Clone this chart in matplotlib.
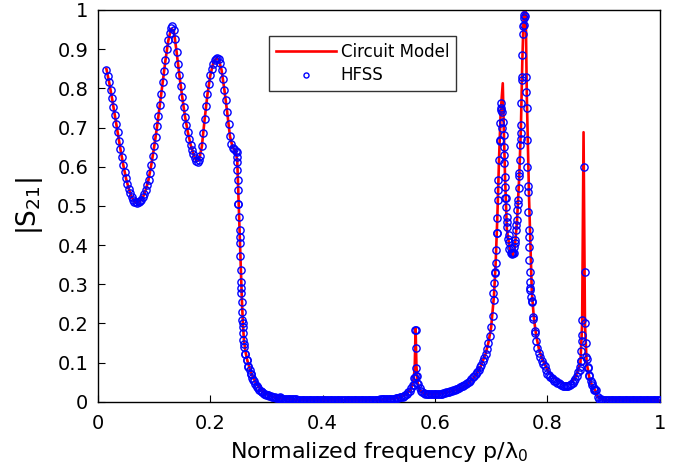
import matplotlib
matplotlib.use("Agg")
import matplotlib.pyplot as plt
import numpy as np

# HFSS: uniform sweep 0.015 .. 1.000, step 0.0025
hfss_x = np.round(np.arange(0.015, 1.00001, 0.0025), 4)
hfss_y = [
    0.848, 0.832, 0.815, 0.795, 0.775, 0.753, 0.732, 0.710,  # 0.015
    0.688, 0.666, 0.645, 0.625, 0.605, 0.587, 0.570, 0.556,  # 0.035
    0.543, 0.532, 0.523, 0.516, 0.511, 0.509, 0.508, 0.509,  # 0.055
    0.512, 0.516, 0.522, 0.530, 0.540, 0.552, 0.566, 0.584,  # 0.075
    0.605, 0.628, 0.652, 0.677, 0.703, 0.730, 0.758, 0.786,  # 0.095
    0.815, 0.845, 0.873, 0.900, 0.923, 0.942, 0.955, 0.958,  # 0.115
    0.950, 0.926, 0.893, 0.863, 0.833, 0.805, 0.778, 0.752,  # 0.135
    0.728, 0.707, 0.688, 0.671, 0.656, 0.643, 0.632, 0.622,  # 0.155
    0.615, 0.612, 0.616, 0.628, 0.652, 0.686, 0.722, 0.755,  # 0.175
    0.785, 0.811, 0.833, 0.850, 0.863, 0.872, 0.876, 0.878,  # 0.195
    0.875, 0.865, 0.848, 0.825, 0.797, 0.769, 0.740, 0.708,  # 0.215
    0.678, 0.658, 0.648, 0.644, 0.641, 0.625, 0.506, 0.420,  # 0.235
    0.290, 0.200, 0.147, 0.123, 0.106, 0.091, 0.080, 0.071,  # 0.255
    0.061, 0.053, 0.046, 0.040, 0.035, 0.031, 0.027, 0.024,  # 0.275
    0.021, 0.019, 0.018, 0.016, 0.015, 0.014, 0.013, 0.012,  # 0.295
    0.011, 0.010, 0.010, 0.009, 0.009, 0.008, 0.008, 0.007,  # 0.315
    0.007, 0.007, 0.006, 0.006, 0.006, 0.006, 0.006, 0.006,  # 0.335
    0.005, 0.005, 0.005, 0.005, 0.005, 0.005, 0.005, 0.005,  # 0.355
    0.005, 0.005, 0.005, 0.005, 0.005, 0.005, 0.005, 0.005,  # 0.375
    0.005, 0.005, 0.005, 0.005, 0.005, 0.005, 0.005, 0.005,  # 0.395
    0.005, 0.005, 0.005, 0.005, 0.005, 0.005, 0.005, 0.005,  # 0.415
    0.005, 0.005, 0.005, 0.005, 0.005, 0.005, 0.005, 0.005,  # 0.435
    0.005, 0.005, 0.005, 0.005, 0.005, 0.005, 0.005, 0.005,  # 0.455
    0.005, 0.005, 0.005, 0.005, 0.005, 0.005, 0.005, 0.005,  # 0.475
    0.005, 0.005, 0.005, 0.006, 0.006, 0.006, 0.006, 0.006,  # 0.495
    0.007, 0.007, 0.007, 0.008, 0.008, 0.008, 0.009, 0.009,  # 0.515
    0.010, 0.011, 0.012, 0.013, 0.015, 0.017, 0.020, 0.024,  # 0.535
    0.028, 0.034, 0.042, 0.060, 0.183, 0.065, 0.045, 0.034,  # 0.555
    0.028, 0.025, 0.022, 0.021, 0.020, 0.020, 0.019, 0.019,  # 0.575
    0.019, 0.019, 0.019, 0.019, 0.020, 0.020, 0.021, 0.021,  # 0.595
    0.022, 0.023, 0.024, 0.025, 0.026, 0.027, 0.028, 0.029,  # 0.615
    0.030, 0.032, 0.033, 0.035, 0.037, 0.039, 0.041, 0.043,  # 0.635
    0.046, 0.048, 0.051, 0.054, 0.058, 0.062, 0.066, 0.071,  # 0.655
    0.076, 0.082, 0.088, 0.095, 0.103, 0.112, 0.122, 0.135,  # 0.675
    0.150, 0.168, 0.190, 0.220, 0.260, 0.330, 0.430, 0.540,  # 0.695
    0.665, 0.750, 0.700, 0.630, 0.520, 0.460, 0.415, 0.390,  # 0.715
    0.380, 0.377, 0.380, 0.404, 0.450, 0.505, 0.575, 0.670,  # 0.735
    0.830, 0.960, 0.985, 0.790, 0.550, 0.420, 0.290, 0.255,  # 0.755
    0.210, 0.180, 0.155, 0.138, 0.125, 0.114, 0.105, 0.097,  # 0.775
    0.090, 0.080, 0.072, 0.068, 0.064, 0.060, 0.057, 0.054,  # 0.795
    0.052, 0.049, 0.047, 0.045, 0.043, 0.041, 0.040, 0.040,  # 0.815
    0.040, 0.041, 0.042, 0.045, 0.048, 0.052, 0.058, 0.065,  # 0.835
    0.075, 0.088, 0.105, 0.170, 0.599, 0.200, 0.110, 0.085,  # 0.855
    0.065, 0.052, 0.042, 0.035, 0.030, 0.030, 0.012, 0.008,  # 0.875
    0.006, 0.005, 0.005, 0.005, 0.004, 0.004, 0.004, 0.004,  # 0.895
    0.004, 0.004, 0.004, 0.004, 0.004, 0.004, 0.004, 0.004,  # 0.915
    0.004, 0.004, 0.004, 0.004, 0.004, 0.004, 0.004, 0.004,  # 0.935
    0.004, 0.004, 0.004, 0.004, 0.004, 0.004, 0.004, 0.004,  # 0.955
    0.004, 0.004, 0.004, 0.004, 0.004, 0.004, 0.004, 0.004,  # 0.975
    0.004, 0.004, 0.004,                                     # 0.995
]

# HFSS: extra dense sweep points on the steep parts
hfss_extra_x = [
    0.247, 0.247, 0.248, 0.249, 0.249, 0.250, 0.251, 0.252, 0.252, 0.253,
    0.254, 0.255, 0.255, 0.256, 0.256, 0.257, 0.258, 0.258, 0.259, 0.2606,
    0.262, 0.265, 0.268, 0.272, 0.2766, 0.2826, 0.2915, 0.303, 0.324,
    0.5635, 0.5645, 0.5655, 0.5655, 0.5655, 0.567, 0.568,
    0.704, 0.705, 0.707, 0.708, 0.709, 0.710, 0.711, 0.712, 0.713, 0.714,
    0.715, 0.716, 0.717, 0.717, 0.719, 0.721, 0.722, 0.722, 0.723, 0.724,
    0.725, 0.726, 0.727, 0.728, 0.729, 0.731, 0.732, 0.735, 0.737,
    0.7397, 0.7415, 0.7427, 0.7444, 0.7457, 0.7467, 0.748, 0.7492, 0.7503,
    0.7516, 0.7521, 0.7528, 0.7534, 0.754, 0.7552, 0.7558, 0.7565, 0.7577,
    0.7584, 0.759, 0.7617, 0.7635, 0.7635, 0.7646, 0.7653, 0.7663, 0.767,
    0.768, 0.768, 0.7694, 0.7694, 0.770, 0.7706, 0.7724, 0.7753, 0.778,
    0.859, 0.860, 0.8605, 0.861, 0.8615, 0.867, 0.8686, 0.869, 0.872,
    0.874, 0.879, 0.883,
]
hfss_extra_y = [
    0.638, 0.613, 0.592, 0.566, 0.540, 0.506, 0.472, 0.438, 0.404, 0.371,
    0.336, 0.306, 0.277, 0.255, 0.230, 0.209, 0.191, 0.175, 0.158, 0.140,
    0.123, 0.106, 0.089, 0.072, 0.055, 0.038, 0.026, 0.017, 0.011,
    0.043, 0.060, 0.086, 0.136, 0.183, 0.065, 0.048,
    0.277, 0.302, 0.328, 0.353, 0.387, 0.430, 0.468, 0.515, 0.566, 0.617,
    0.668, 0.711, 0.745, 0.762, 0.740, 0.715, 0.681, 0.651, 0.609, 0.574,
    0.549, 0.519, 0.498, 0.472, 0.447, 0.426, 0.408, 0.392, 0.379,
    0.379, 0.396, 0.413, 0.438, 0.464, 0.489, 0.515, 0.545, 0.583,
    0.617, 0.655, 0.685, 0.706, 0.762, 0.821, 0.885, 0.940, 0.962,
    0.979, 0.987, 0.830, 0.749, 0.668, 0.600, 0.536, 0.485, 0.438,
    0.396, 0.362, 0.332, 0.306, 0.285, 0.268, 0.258, 0.217, 0.175,
    0.081, 0.105, 0.130, 0.156, 0.209, 0.331, 0.149, 0.115, 0.089,
    0.068, 0.047, 0.030,
]

# Circuit model
circuit_x = [
    0.015, 0.02, 0.025, 0.03, 0.035, 0.04, 0.045, 0.05, 0.055, 0.06,
    0.065, 0.07, 0.075, 0.08, 0.085, 0.09, 0.095, 0.10, 0.105, 0.11,
    0.115, 0.12, 0.125, 0.13, 0.135, 0.14, 0.145, 0.15, 0.155, 0.16,
    0.165, 0.17, 0.175, 0.18, 0.185, 0.19, 0.195, 0.20, 0.205, 0.21,
    0.215, 0.22, 0.225, 0.23, 0.235, 0.24, 0.245, 0.248, 0.25, 0.252,
    0.254, 0.256, 0.258, 0.26, 0.263, 0.266, 0.27, 0.275, 0.28, 0.29,
    0.30, 0.31, 0.32, 0.35, 0.40, 0.45, 0.50, 0.52, 0.535, 0.545,
    0.553, 0.558, 0.562, 0.564, 0.5655, 0.567, 0.569, 0.572, 0.577, 0.585,
    0.60, 0.62, 0.64, 0.65, 0.66, 0.67, 0.68, 0.69, 0.695, 0.70,
    0.705, 0.708, 0.711, 0.714, 0.717, 0.7207, 0.7225, 0.7247, 0.728, 0.73,
    0.734, 0.738, 0.742, 0.746, 0.75, 0.753, 0.7555, 0.758, 0.7605, 0.762,
    0.7635, 0.7676, 0.7724, 0.776, 0.78, 0.785, 0.79, 0.80, 0.81, 0.82,
    0.83, 0.84, 0.85, 0.855, 0.859, 0.862, 0.8645, 0.867, 0.87, 0.875,
    0.88, 0.885, 0.89, 0.90, 0.95, 1.0,
]
circuit_y = [
    0.850, 0.815, 0.775, 0.732, 0.688, 0.645, 0.605, 0.570, 0.543, 0.523,
    0.511, 0.508, 0.512, 0.522, 0.540, 0.567, 0.605, 0.650, 0.700, 0.755,
    0.812, 0.870, 0.920, 0.952, 0.948, 0.893, 0.833, 0.778, 0.728, 0.688,
    0.656, 0.632, 0.615, 0.616, 0.652, 0.722, 0.785, 0.833, 0.863, 0.876,
    0.874, 0.847, 0.797, 0.740, 0.678, 0.648, 0.641, 0.615, 0.530, 0.450,
    0.360, 0.270, 0.200, 0.155, 0.125, 0.105, 0.085, 0.066, 0.051, 0.031,
    0.020, 0.013, 0.009, 0.005, 0.004, 0.004, 0.005, 0.007, 0.010, 0.016,
    0.025, 0.035, 0.055, 0.090, 0.188, 0.090, 0.050, 0.032, 0.024, 0.020,
    0.019, 0.023, 0.031, 0.038, 0.048, 0.063, 0.085, 0.122, 0.150, 0.190,
    0.270, 0.353, 0.470, 0.617, 0.740, 0.813, 0.700, 0.575, 0.440, 0.420,
    0.385, 0.372, 0.392, 0.460, 0.575, 0.700, 0.870, 0.990, 1.060, 0.950,
    0.780, 0.515, 0.280, 0.215, 0.170, 0.135, 0.112, 0.082, 0.064, 0.053,
    0.046, 0.047, 0.062, 0.082, 0.100, 0.200, 0.688, 0.200, 0.100, 0.060,
    0.040, 0.030, 0.012, 0.005, 0.004, 0.003,
]

x_ticks = [0, 0.2, 0.4, 0.6, 0.8, 1]
x_tick_labels = ["0", "0.2", "0.4", "0.6", "0.8", "1"]
y_ticks = [0, 0.1, 0.2, 0.3, 0.4, 0.5, 0.6, 0.7, 0.8, 0.9, 1]
y_tick_labels = ["0", "0.1", "0.2", "0.3", "0.4", "0.5", "0.6", "0.7", "0.8", "0.9", "1"]

plt.rcParams["font.family"] = ["DejaVu Sans"]

fig = plt.figure(figsize=(6.85, 4.76), dpi=100)
ax = fig.add_axes([0.143, 0.156, 0.820, 0.823])

ax.plot(circuit_x, circuit_y, color="red", lw=1.9, label="Circuit Model", zorder=2)

hx = np.concatenate([hfss_x, hfss_extra_x])
hy = np.concatenate([hfss_y, hfss_extra_y])
order = np.argsort(hx, kind="stable")
ax.plot(hx[order], hy[order], ls="none", marker="o", ms=5.2, mfc="none",
        mec="blue", mew=1.0, label="HFSS", zorder=3)

ax.set_xlim(0, 1)
ax.set_ylim(0, 1)
ax.set_xticks(x_ticks)
ax.set_xticklabels(x_tick_labels)
ax.set_yticks(y_ticks)
ax.set_yticklabels(y_tick_labels)
ax.tick_params(direction="in", length=5, width=0.8, labelsize=14,
               top=False, right=False)
ax.tick_params(axis="x", pad=9)
ax.tick_params(axis="y", pad=7)
for s in ax.spines.values():
    s.set_linewidth(1.0)
    s.set_color("black")

ax.set_xlabel(r"Normalized frequency p/$\mathregular{\lambda_0}$", fontsize=16, labelpad=5)
ax.set_ylabel(r"$\mathregular{|S_{21}|}$", fontsize=19, labelpad=9)

leg = ax.legend(loc="upper left", bbox_to_anchor=(0.3045, 0.934), borderaxespad=0,
                fontsize=12, handlelength=3.6, fancybox=False, framealpha=1,
                edgecolor="#333333", borderpad=0.4, labelspacing=0.35,
                handletextpad=0.3, markerscale=0.7)
leg.get_frame().set_linewidth(1.0)

fig.savefig("out.png", dpi=100)
